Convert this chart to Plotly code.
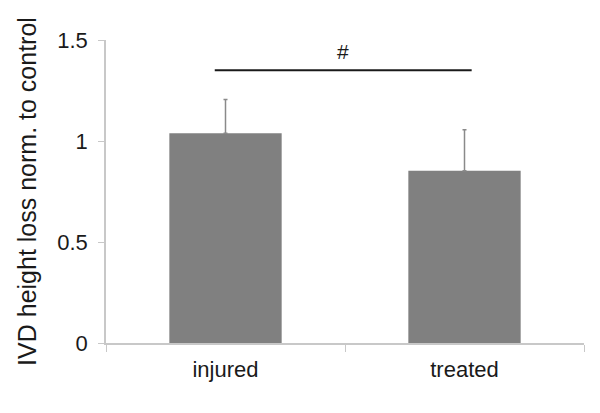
import plotly.graph_objects as go

groups = ["injured", "treated"]
means = [1.038, 0.853]
err_up = [0.168, 0.203]
y_ticks = [0, 0.5, 1, 1.5]
y_tick_text = ["0", "0.5", "1", "1.5"]

# significance bracket between the groups
sig_span = [-0.045, 1.03]
sig_level = 1.35
sig_label = "#"

FONT = "Liberation Sans, Arial, sans-serif"
AXIS_GREY = "#c8c8c8"
BAR_GREY = "#808080"

fig = go.Figure()
fig.add_trace(
    go.Bar(
        x=groups,
        y=means,
        width=0.47,
        marker=dict(color=BAR_GREY, line=dict(width=0)),
        error_y=dict(
            type="data",
            symmetric=False,
            array=err_up,
            arrayminus=[0, 0],
            color="#8a8a8a",
            thickness=1.5,
            width=2,
        ),
        showlegend=False,
    )
)

fig.add_shape(
    type="line",
    xref="x",
    yref="y",
    x0=sig_span[0],
    x1=sig_span[1],
    y0=sig_level,
    y1=sig_level,
    line=dict(color="#1a1a1a", width=2),
)
fig.add_annotation(
    x=(sig_span[0] + sig_span[1]) / 2,
    y=sig_level,
    xref="x",
    yref="y",
    text=sig_label,
    showarrow=False,
    yanchor="bottom",
    yshift=5,
    font=dict(family=FONT, size=21, color="#1a1a1a"),
)

# the page body adds an 8px offset, so the figure is 8px smaller
fig.update_layout(
    width=592,
    height=405,
    margin=dict(l=98, r=16, t=32, b=70),
    paper_bgcolor="white",
    plot_bgcolor="white",
    font=dict(family=FONT, size=22, color="#1a1a1a"),
)
fig.update_xaxes(
    type="category",
    range=[-0.5, 1.5],
    showline=True,
    linecolor=AXIS_GREY,
    linewidth=1.5,
    ticks="outside",
    tickson="boundaries",
    ticklen=7,
    tickcolor=AXIS_GREY,
    ticklabelstandoff=6,
    showgrid=False,
    zeroline=False,
)
fig.update_yaxes(
    range=[0, 1.5],
    tickvals=y_ticks,
    ticktext=y_tick_text,
    showline=True,
    linecolor=AXIS_GREY,
    linewidth=1.5,
    ticks="outside",
    ticklen=6,
    tickcolor=AXIS_GREY,
    ticklabelstandoff=6,
    showgrid=False,
    zeroline=False,
    automargin=True,
    title=dict(text="IVD height loss norm. to control", font=dict(size=25), standoff=14),
)

fig.write_html("out.html")
